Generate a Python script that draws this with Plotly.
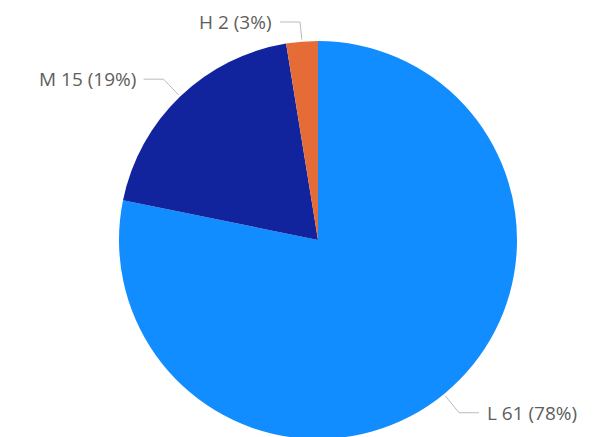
import math
import plotly.graph_objects as go

categories = ["L", "M", "H"]
values = [61, 15, 2]
colors = ["#118DFF", "#12239E", "#E66C37"]

W, H = 606, 437
CX, CY, R = 310, 232, 199  # pie centre/radius in figure pixels (page adds 8px offset)
FONT_SIZE = 19

total = sum(values)

fig = go.Figure(go.Pie(
    labels=categories,
    values=values,
    sort=False,
    direction="clockwise",
    rotation=0,
    textinfo="none",
    hoverinfo="label+value+percent",
    marker=dict(colors=colors, line=dict(width=0)),
    domain=dict(x=[(CX - R) / W, (CX + R) / W], y=[(H - CY - R) / H, (H - CY + R) / H]),
    showlegend=False,
))


def to_paper(px, py):
    return px / W, 1 - py / H


cum = 0
for cat, v in zip(categories, values):
    mid = (cum + v / 2) / total
    cum += v
    ang = 2 * math.pi * mid
    dx, dy = math.sin(ang), -math.cos(ang)
    sx, sy = CX + (R + 2) * dx, CY + (R + 2) * dy
    ex, ey = CX + (R + 24) * dx, CY + (R + 24) * dy
    ey = max(ey, 14)  # keep label inside the figure
    side = 1 if dx > 0 else -1
    hx = ex + side * 20
    pts = [to_paper(sx, sy), to_paper(ex, ey), to_paper(hx, ey)]
    path = "M {} {} L {} {} L {} {}".format(pts[0][0], pts[0][1], pts[1][0], pts[1][1], pts[2][0], pts[2][1])
    fig.add_shape(type="path", path=path, xref="paper", yref="paper",
                  line=dict(color="#BEBBB8", width=1))
    pct = round(100 * v / total)
    tx, ty = to_paper(hx + side * 6, ey)
    fig.add_annotation(
        x=tx, y=ty, xref="paper", yref="paper",
        text=f"{cat} {v} ({pct}%)", showarrow=False,
        xanchor="left" if side > 0 else "right", yanchor="middle",
        font=dict(family="Segoe UI, Open Sans, sans-serif", size=FONT_SIZE, color="#605E5C"),
    )

fig.update_layout(
    width=W, height=H,
    margin=dict(l=0, r=0, t=0, b=0),
    paper_bgcolor="white",
    plot_bgcolor="white",
)

fig.write_html("out.html")
